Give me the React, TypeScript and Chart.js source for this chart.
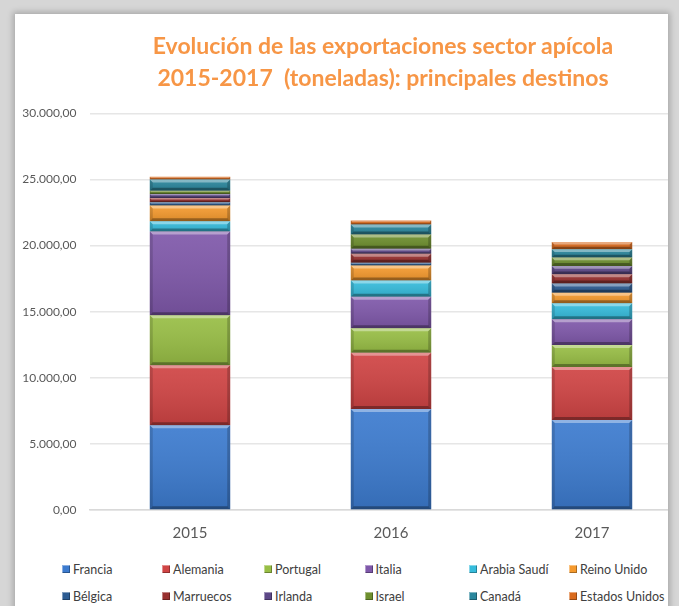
import React, { useEffect, useRef } from "react";
import { Chart, registerables } from "chart.js";

Chart.register(...registerables);

// ---- Data ----
const years = ["2015", "2016", "2017"];
const seriesNames = [
  "Francia",
  "Alemania",
  "Portugal",
  "Italia",
  "Arabia Saudí",
  "Reino Unido",
  "Bélgica",
  "Marruecos",
  "Irlanda",
  "Israel",
  "Canadá",
  "Estados Unidos",
];
const francia = [6400, 7640, 6810];
const alemania = [4540, 4260, 4010];
const portugal = [3780, 1840, 1660];
const italia = [6350, 2390, 1940];
const arabiaSaudi = [760, 1230, 1210];
const reinoUnido = [1190, 1130, 800];
const belgica = [250, 200, 700];
const marruecos = [330, 680, 700];
const irlanda = [300, 380, 630];
const israel = [250, 1080, 630];
const canada = [850, 760, 630];
const estadosUnidos = [200, 300, 550];
const yMax = 30000;
const yStep = 5000;

const seriesValues = [
  francia,
  alemania,
  portugal,
  italia,
  arabiaSaudi,
  reinoUnido,
  belgica,
  marruecos,
  irlanda,
  israel,
  canada,
  estadosUnidos,
];

const seriesColors = [
  "#3C7BCF",
  "#D04444",
  "#98BE45",
  "#7F58AA",
  "#36BCDC",
  "#F59A2E",
  "#2D5C92",
  "#98302F",
  "#5D4887",
  "#6E8F2E",
  "#2A869C",
  "#DA6B1E",
];

const legendColX = [62, 162, 264, 364.5, 469, 569];
const legendRowY = [569, 596];

function fmt(v: number): string {
  const s = Math.round(v)
    .toString()
    .replace(/\B(?=(\d{3})+(?!\d))/g, ".");
  return s + ",00";
}

const bevelPlugin = {
  id: "bevel",
  afterDatasetsDraw(chart: any) {
    const ctx = chart.ctx;
    chart.data.datasets.forEach((_ds: any, i: number) => {
      const meta = chart.getDatasetMeta(i);
      meta.data.forEach((bar: any) => {
        const { x, y, base, width } = bar.getProps(["x", "y", "base", "width"], true);
        const left = x - width / 2;
        const right = x + width / 2;
        const top = Math.min(y, base);
        const bottom = Math.max(y, base);
        const h = bottom - top;
        if (h <= 0) return;
        const b = Math.min(3, h / 3);
        ctx.save();
        const g = ctx.createLinearGradient(0, top, 0, bottom);
        g.addColorStop(0, "rgba(255,255,255,0.08)");
        g.addColorStop(1, "rgba(0,0,0,0.12)");
        ctx.fillStyle = g;
        ctx.fillRect(left, top, width, h);
        // top highlight
        ctx.fillStyle = "rgba(255,255,255,0.38)";
        ctx.beginPath();
        ctx.moveTo(left, top);
        ctx.lineTo(right, top);
        ctx.lineTo(right - b, top + b);
        ctx.lineTo(left + b, top + b);
        ctx.closePath();
        ctx.fill();
        // bottom shadow
        ctx.fillStyle = "rgba(0,0,0,0.32)";
        ctx.beginPath();
        ctx.moveTo(left, bottom);
        ctx.lineTo(right, bottom);
        ctx.lineTo(right - b, bottom - b);
        ctx.lineTo(left + b, bottom - b);
        ctx.closePath();
        ctx.fill();
        // sides
        ctx.fillStyle = "rgba(0,0,0,0.14)";
        ctx.beginPath();
        ctx.moveTo(left, top);
        ctx.lineTo(left + b, top + b);
        ctx.lineTo(left + b, bottom - b);
        ctx.lineTo(left, bottom);
        ctx.closePath();
        ctx.fill();
        ctx.fillStyle = "rgba(0,0,0,0.2)";
        ctx.beginPath();
        ctx.moveTo(right, top);
        ctx.lineTo(right - b, top + b);
        ctx.lineTo(right - b, bottom - b);
        ctx.lineTo(right, bottom);
        ctx.closePath();
        ctx.fill();
        ctx.restore();
      });
    });
  },
};

export default function App() {
  const canvasRef = useRef<HTMLCanvasElement | null>(null);

  useEffect(() => {
    if (!canvasRef.current) return;
    const chart = new Chart(canvasRef.current, {
      type: "bar",
      data: {
        labels: years,
        datasets: seriesNames.map((name, i) => ({
          label: name,
          data: seriesValues[i],
          backgroundColor: seriesColors[i],
          borderWidth: 0,
          categoryPercentage: 1,
          barPercentage: 0.4,
        })),
      },
      options: {
        responsive: false,
        animation: false,
        layout: { padding: { top: 113.3, right: 7.5, left: 0, bottom: 0 } },
        plugins: {
          legend: { display: false },
          title: { display: false },
          tooltip: { enabled: false },
        },
        scales: {
          x: {
            stacked: true,
            grid: { display: false, drawTicks: false },
            border: { display: true, color: "#d9d9d9", width: 1.5 },
            ticks: {
              color: "#595959",
              font: { family: "Lato", size: 15 },
              padding: 14,
            },
            afterFit(scale: any) {
              scale.height = 50;
            },
          },
          y: {
            stacked: true,
            min: 0,
            max: yMax,
            ticks: {
              stepSize: yStep,
              color: "#595959",
              font: { family: "Lato", size: 12 },
              padding: 13,
              callback: (v: any) => fmt(Number(v)),
            },
            grid: { color: "#e6e6e6", lineWidth: 1.5, drawTicks: false },
            border: { display: false },
            afterFit(scale: any) {
              scale.width = 89.5;
            },
          },
        },
      },
      plugins: [bevelPlugin],
    });
    return () => chart.destroy();
  }, []);

  return (
    <div
      style={{
        position: "fixed",
        left: 0,
        top: 0,
        width: 679,
        height: 606,
        overflow: "hidden",
        background: "#d6d6d6",
      }}
    >
      <div
        style={{
          position: "absolute",
          left: 15,
          top: 14,
          width: 653,
          height: 640,
          background: "#ffffff",
          boxShadow: "0 0 6px 2px rgba(0,0,0,0.22)",
        }}
      />
      <div
        style={{
          position: "absolute",
          left: 0,
          top: 0,
          width: 668,
          height: 606,
          overflow: "hidden",
        }}
      >
        <canvas
          ref={canvasRef}
          width={700}
          height={560}
          style={{ position: "absolute", left: 0, top: 0, width: 700, height: 560 }}
        />
      </div>
      <div
        style={{
          position: "absolute",
          left: 0,
          top: 29,
          width: 766,
          textAlign: "center",
          fontFamily: "Lato",
          fontWeight: 700,
          fontSize: 23,
          lineHeight: "32px",
          color: "#F79646",
          whiteSpace: "pre",
        }}
      >
        {"Evolución de las exportaciones sector apícola\n2015-2017  (toneladas): principales destinos"}
      </div>
      {seriesNames.map((name, i) => {
        const col = i % 6;
        const row = Math.floor(i / 6);
        return (
          <div
            key={name}
            style={{
              position: "absolute",
              left: legendColX[col],
              top: legendRowY[row] - 8,
              height: 16,
              display: "flex",
              alignItems: "center",
              fontFamily: "Lato",
              fontSize: 12.5,
              color: "#404040",
              whiteSpace: "nowrap",
            }}
          >
            <span
              style={{
                display: "inline-block",
                width: 8,
                height: 8,
                marginRight: 3,
                background: seriesColors[i],
                boxShadow:
                  "inset 1px 1px 0 rgba(255,255,255,0.4), inset -1px -1px 0 rgba(0,0,0,0.3)",
              }}
            />
            {name}
          </div>
        );
      })}
    </div>
  );
}
